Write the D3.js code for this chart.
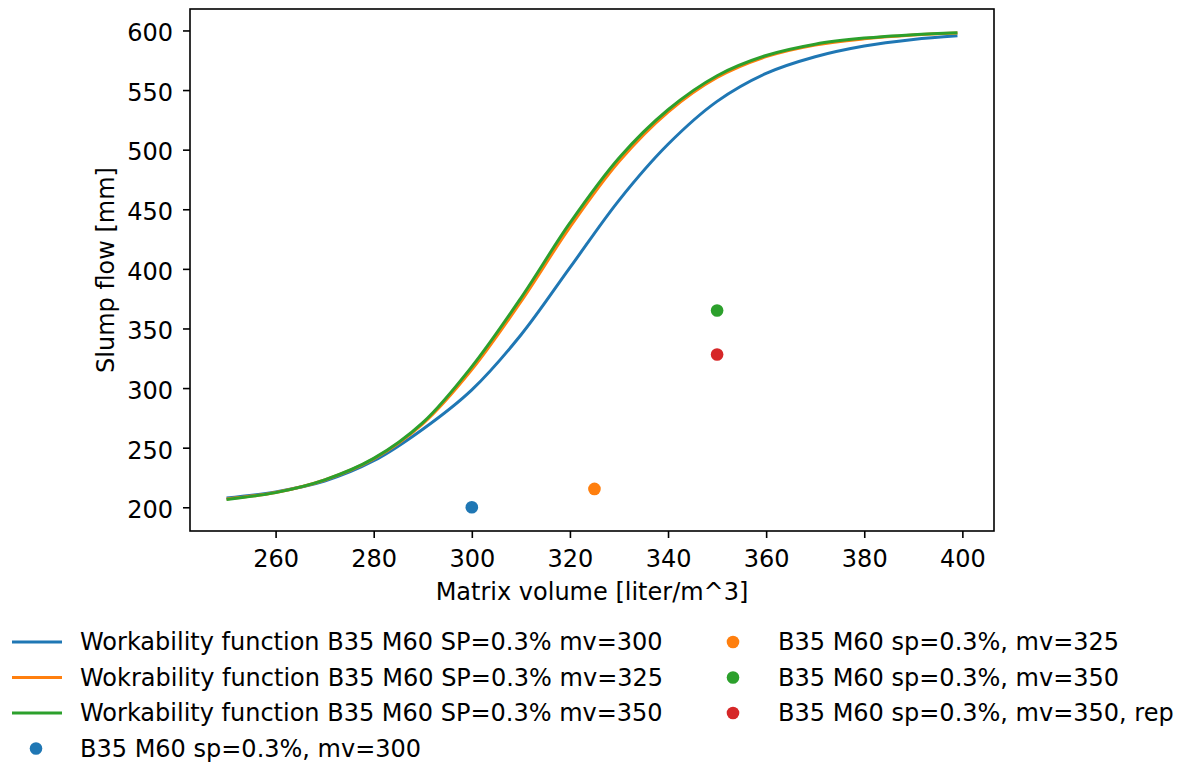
<!DOCTYPE html>
<html>
<head>
<meta charset="utf-8">
<script src="https://cdn.jsdelivr.net/npm/d3@7"></script>
<style>
  body { margin: 0; background: #fff; }
  text { font-family: "DejaVu Sans", sans-serif; fill: #000; }
</style>
</head>
<body>
<svg id="chart" width="1183" height="762"></svg>
<script>
// matrix volume grid of the workability curves
const mvGrid = [250, 260, 270, 280, 290, 300, 310, 320, 330, 340, 350, 360, 370, 380, 390, 399];
// slump flow
const fn300 = [207.8, 212.9, 222.0, 239.0, 265.5, 298.5, 344.5, 401.0, 457.5, 504.5, 540.5, 564.0, 578.0, 587.0, 592.5, 595.6];
const fn325 = [206.9, 212.4, 222.9, 240.6, 270.0, 315.5, 372.5, 435.0, 490.0, 531.5, 560.5, 578.0, 587.8, 593.0, 596.2, 597.8];
const fn350 = [206.6, 212.3, 223.0, 241.0, 271.0, 318.0, 375.5, 438.5, 493.0, 533.5, 562.0, 579.0, 588.5, 593.6, 596.5, 598.1];

// measured points
const pointMv = [300, 325, 350, 350];
const pointFlow = [200, 215.4, 365.1, 328.2];

const lineNames = [
  "Workability function B35 M60 SP=0.3% mv=300",
  "Wokrability function B35 M60 SP=0.3% mv=325",
  "Workability function B35 M60 SP=0.3% mv=350"
];
const pointNames = [
  "B35 M60 sp=0.3%, mv=300",
  "B35 M60 sp=0.3%, mv=325",
  "B35 M60 sp=0.3%, mv=350",
  "B35 M60 sp=0.3%, mv=350, rep"
];
const xTicks = [260, 280, 300, 320, 340, 360, 380, 400];
const yTicks = [200, 250, 300, 350, 400, 450, 500, 550, 600];

const lineColors = ["#1f77b4", "#ff7f0e", "#2ca02c"];
const pointColors = ["#1f77b4", "#ff7f0e", "#2ca02c", "#d62728"];

const plot = { left: 190, top: 9, right: 994, bottom: 531 };

const svg = d3.select("#chart");

const x = d3.scaleLinear().domain([242.55, 406.45]).range([plot.left, plot.right]);
const y = d3.scaleLinear().domain([180.1, 618.0]).range([plot.bottom, plot.top]);

// curves
const line = d3.line()
  .x(d => x(d[0]))
  .y(d => y(d[1]))
  .curve(d3.curveCatmullRom.alpha(0.5));

[fn300, fn325, fn350].forEach((vals, i) => {
  svg.append("path")
    .datum(mvGrid.map((m, j) => [m, vals[j]]))
    .attr("d", line)
    .attr("fill", "none")
    .attr("stroke", lineColors[i])
    .attr("stroke-width", 3);
});

// measured points
svg.selectAll("circle.pt")
  .data(pointMv.map((m, i) => ({ x: m, y: pointFlow[i], c: pointColors[i] })))
  .enter().append("circle")
  .attr("class", "pt")
  .attr("cx", d => x(d.x))
  .attr("cy", d => y(d.y))
  .attr("r", 6.3)
  .attr("fill", d => d.c);

// axes
const xAxis = svg.append("g")
  .attr("transform", `translate(0,${plot.bottom})`)
  .call(d3.axisBottom(x).tickValues(xTicks).tickSize(7).tickPadding(12));
const yAxis = svg.append("g")
  .attr("transform", `translate(${plot.left},0)`)
  .call(d3.axisLeft(y).tickValues(yTicks).tickSize(7).tickPadding(10));

[xAxis, yAxis].forEach(a => {
  a.select(".domain").remove();
  a.selectAll(".tick line").attr("stroke", "#000").attr("stroke-width", 1.6);
  a.selectAll(".tick text")
    .style("font-family", "DejaVu Sans")
    .style("font-size", "24px")
    .attr("fill", "#000");
});
yAxis.selectAll(".tick text").attr("dy", "0.43em");

// frame
svg.append("rect")
  .attr("x", plot.left)
  .attr("y", plot.top)
  .attr("width", plot.right - plot.left)
  .attr("height", plot.bottom - plot.top)
  .attr("fill", "none")
  .attr("stroke", "#000")
  .attr("stroke-width", 1.6);

// axis labels
svg.append("text")
  .attr("x", (plot.left + plot.right) / 2)
  .attr("y", 600)
  .attr("text-anchor", "middle")
  .style("font-size", "24px")
  .text("Matrix volume [liter/m^3]");

svg.append("text")
  .attr("transform", `translate(114,${(plot.top + plot.bottom) / 2}) rotate(-90)`)
  .attr("text-anchor", "middle")
  .style("font-size", "24px")
  .text("Slump flow [mm]");

// legend, two columns under the plot
const rowY = [642, 677.5, 713, 748.5];
const legendItems = [];
lineNames.forEach((n, i) => legendItems.push({ kind: "line", name: n, color: lineColors[i] }));
pointNames.forEach((n, i) => legendItems.push({ kind: "dot", name: n, color: pointColors[i] }));

const colX = [12, 709];
const legend = svg.append("g");
legendItems.forEach((it, i) => {
  const col = i < 4 ? 0 : 1;
  const row = i < 4 ? i : i - 4;
  const g = legend.append("g")
    .attr("transform", `translate(${colX[col]},${rowY[row]})`);
  if (it.kind === "line") {
    g.append("line")
      .attr("x1", 0).attr("x2", 50)
      .attr("y1", 0).attr("y2", 0)
      .attr("stroke", it.color)
      .attr("stroke-width", 3);
  } else {
    g.append("circle")
      .attr("cx", 24).attr("cy", 0)
      .attr("r", 6.3)
      .attr("fill", it.color);
  }
  g.append("text")
    .attr("x", col === 0 ? 68 : 69)
    .attr("y", 8.3)
    .style("font-size", "24px")
    .text(it.name);
});
</script>
</body>
</html>
